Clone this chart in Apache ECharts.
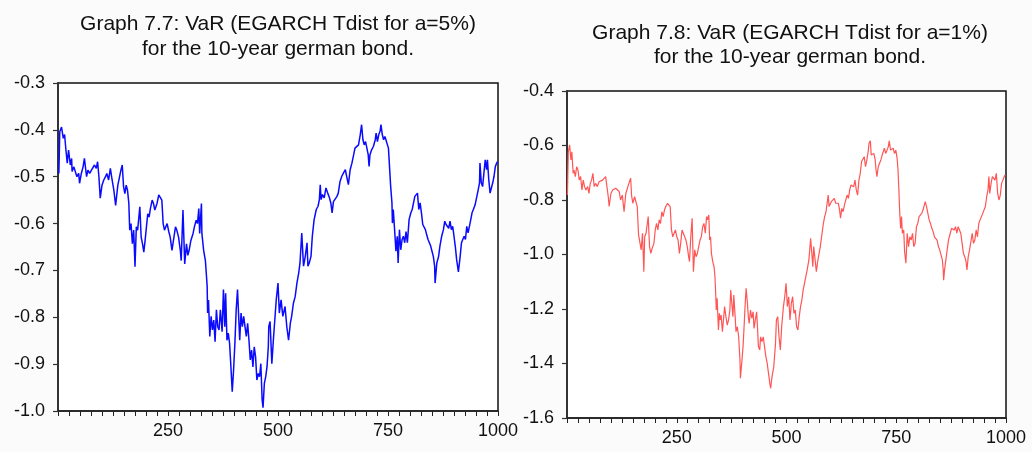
<!DOCTYPE html>
<html>
<head>
<meta charset="utf-8">
<script src="https://cdn.jsdelivr.net/npm/echarts@6/dist/echarts.min.js"></script>
<style>
  html, body { margin: 0; padding: 0; background: #fbfbfb; }
  #chart { width: 1032px; height: 452px; }
</style>
</head>
<body>
<div id="chart"></div>
<script>
// Titles of the two panels
const titleLeft = 'Graph 7.7: VaR (EGARCH Tdist for a=5%)\nfor the 10-year german bond.';
const titleRight = 'Graph 7.8: VaR (EGARCH Tdist for a=1%)\nfor the 10-year german bond.';

// x tick labels (observation number)
const xLabels = [250, 500, 750, 1000];

// VaR at a=5%: observation index and value
const obs5 = [2,4,8,12,15,18,21,24,28,31,32,36,40,43,47,49,53,57,60,65,68,72,76,80,83,87,90,93,96,100,104,108,111,115,119,123,127,131,136,140,143,146,149,152,155,158,161,163,166,169,172,175,178,181,186,189,192,195,198,201,204,207,210,214,217,220,225,229,233,236,239,242,245,248,252,255,259,263,267,270,274,278,280,284,288,292,295,298,302,307,310,314,317,320,322,326,327,331,335,337,339,340,342,345,348,351,354,357,360,363,366,369,373,376,379,381,384,387,390,393,396,399,402,405,408,411,413,416,419,422,425,428,431,434,437,440,443,446,449,452,455,458,461,464,466,469,472,475,478,479,482,486,490,496,500,503,507,511,516,520,524,528,531,535,539,543,547,550,554,558,562,566,568,571,575,578,582,587,591,594,596,598,601,605,609,613,617,620,623,626,630,634,637,641,645,649,653,656,660,664,668,672,675,679,683,687,690,693,696,699,702,705,707,709,713,717,721,723,726,729,732,734,737,740,743,747,751,753,756,759,760,762,765,768,771,773,776,779,782,785,788,791,794,798,802,805,808,811,814,817,820,823,826,829,832,835,838,841,844,847,850,853,856,857,861,865,868,872,876,879,882,885,888,891,894,897,900,903,906,910,914,917,920,923,926,929,932,935,938,941,944,948,952,955,958,959,962,965,968,971,974,976,979,982,985,988,991,994,997,999];
const var5 = [-0.493,-0.404,-0.394,-0.418,-0.41,-0.443,-0.471,-0.443,-0.475,-0.461,-0.489,-0.479,-0.475,-0.5,-0.493,-0.514,-0.493,-0.479,-0.461,-0.5,-0.486,-0.493,-0.486,-0.482,-0.475,-0.482,-0.468,-0.5,-0.546,-0.518,-0.507,-0.5,-0.493,-0.507,-0.482,-0.507,-0.529,-0.561,-0.518,-0.5,-0.486,-0.475,-0.521,-0.536,-0.518,-0.529,-0.557,-0.614,-0.6,-0.643,-0.614,-0.692,-0.607,-0.614,-0.564,-0.629,-0.643,-0.661,-0.636,-0.607,-0.579,-0.586,-0.568,-0.55,-0.557,-0.571,-0.557,-0.539,-0.536,-0.55,-0.6,-0.614,-0.611,-0.6,-0.618,-0.629,-0.657,-0.632,-0.607,-0.614,-0.629,-0.657,-0.679,-0.571,-0.686,-0.643,-0.668,-0.657,-0.636,-0.621,-0.607,-0.593,-0.6,-0.568,-0.621,-0.557,-0.621,-0.657,-0.679,-0.706,-0.734,-0.791,-0.763,-0.841,-0.798,-0.827,-0.806,-0.852,-0.784,-0.82,-0.827,-0.784,-0.831,-0.741,-0.82,-0.749,-0.849,-0.834,-0.856,-0.906,-0.959,-0.913,-0.856,-0.784,-0.741,-0.806,-0.849,-0.791,-0.82,-0.798,-0.82,-0.841,-0.813,-0.849,-0.891,-0.87,-0.906,-0.863,-0.884,-0.934,-0.92,-0.927,-0.899,-0.977,-0.993,-0.941,-0.927,-0.906,-0.863,-0.82,-0.809,-0.899,-0.841,-0.763,-0.727,-0.791,-0.763,-0.798,-0.777,-0.82,-0.849,-0.813,-0.798,-0.77,-0.756,-0.727,-0.706,-0.684,-0.62,-0.691,-0.67,-0.641,-0.691,-0.684,-0.67,-0.627,-0.592,-0.57,-0.563,-0.549,-0.517,-0.549,-0.538,-0.545,-0.524,-0.535,-0.545,-0.556,-0.577,-0.553,-0.556,-0.542,-0.535,-0.51,-0.499,-0.492,-0.485,-0.499,-0.517,-0.485,-0.471,-0.453,-0.439,-0.442,-0.432,-0.41,-0.389,-0.421,-0.432,-0.425,-0.439,-0.453,-0.478,-0.453,-0.442,-0.435,-0.421,-0.407,-0.425,-0.41,-0.403,-0.389,-0.41,-0.421,-0.414,-0.41,-0.439,-0.471,-0.52,-0.556,-0.599,-0.57,-0.613,-0.659,-0.627,-0.684,-0.613,-0.656,-0.634,-0.627,-0.641,-0.617,-0.641,-0.591,-0.577,-0.57,-0.556,-0.542,-0.538,-0.535,-0.57,-0.556,-0.577,-0.602,-0.599,-0.613,-0.624,-0.634,-0.634,-0.648,-0.659,-0.67,-0.691,-0.727,-0.684,-0.67,-0.648,-0.627,-0.613,-0.595,-0.602,-0.599,-0.61,-0.595,-0.613,-0.606,-0.627,-0.649,-0.677,-0.703,-0.67,-0.641,-0.641,-0.627,-0.634,-0.606,-0.62,-0.606,-0.592,-0.577,-0.57,-0.56,-0.556,-0.528,-0.513,-0.471,-0.513,-0.521,-0.492,-0.464,-0.485,-0.464,-0.506,-0.535,-0.531,-0.513,-0.499,-0.478,-0.471,-0.468];

// VaR at a=1%: observation index and value
const obs1 = [1,3,6,9,11,14,16,19,22,25,28,31,34,37,40,43,47,50,53,56,59,62,65,69,73,77,81,84,88,91,94,96,100,104,107,111,115,119,122,126,130,134,138,141,145,147,150,154,158,160,163,166,169,172,175,177,180,183,185,188,191,194,198,201,204,207,210,213,216,219,222,225,229,232,235,238,241,244,247,250,253,256,259,262,265,268,271,274,277,279,282,285,288,291,294,297,300,303,306,309,312,315,318,320,323,325,327,329,332,335,337,339,340,342,345,347,349,351,354,356,359,362,365,368,371,373,376,378,380,383,385,388,391,394,395,398,401,403,406,408,411,413,415,418,421,424,426,429,432,434,436,439,441,444,447,450,453,456,460,462,464,467,471,475,477,480,483,486,489,493,496,499,502,505,508,511,514,517,520,523,526,529,532,535,538,541,544,547,551,555,557,560,562,565,568,571,574,577,581,584,587,590,593,595,597,599,602,606,609,612,615,618,621,623,626,629,632,635,638,641,644,647,650,653,656,659,662,665,668,671,674,677,680,683,686,688,691,693,696,699,702,704,706,709,712,715,718,721,723,726,729,732,734,737,740,743,746,749,752,754,756,758,760,762,764,767,769,772,775,778,781,784,787,790,793,796,799,802,805,808,811,814,816,819,822,825,828,831,834,837,840,843,846,849,852,855,857,858,860,863,866,869,873,876,879,882,885,888,891,894,897,900,903,906,909,911,914,917,920,923,926,929,932,935,938,941,944,947,950,953,956,959,961,963,966,969,972,975,978,981,984,987,990,993,996,998];
const var1 = [-0.782,-0.623,-0.598,-0.653,-0.623,-0.702,-0.69,-0.714,-0.678,-0.69,-0.727,-0.714,-0.763,-0.727,-0.751,-0.763,-0.751,-0.776,-0.739,-0.727,-0.702,-0.751,-0.739,-0.751,-0.733,-0.739,-0.727,-0.733,-0.714,-0.708,-0.788,-0.824,-0.776,-0.763,-0.769,-0.757,-0.751,-0.769,-0.8,-0.782,-0.843,-0.776,-0.769,-0.739,-0.72,-0.782,-0.812,-0.788,-0.794,-0.824,-0.928,-0.922,-0.983,-0.922,-1.063,-0.935,-0.922,-0.886,-0.861,-0.971,-0.996,-0.977,-0.959,-0.91,-0.886,-0.91,-0.873,-0.886,-0.843,-0.861,-0.837,-0.824,-0.812,-0.818,-0.824,-0.91,-0.935,-0.922,-0.91,-0.935,-0.947,-0.996,-0.959,-0.91,-0.922,-0.935,-0.947,-0.971,-1.008,-1.026,-0.935,-0.867,-1.063,-0.983,-1.008,-0.996,-0.971,-0.947,-0.935,-0.898,-0.886,-0.922,-0.861,-0.873,-0.855,-0.947,-0.935,-0.996,-1.026,-1.045,-1.081,-1.155,-1.204,-1.161,-1.277,-1.216,-1.24,-1.222,-1.283,-1.289,-1.191,-1.228,-1.259,-1.24,-1.204,-1.13,-1.191,-1.228,-1.149,-1.228,-1.283,-1.265,-1.302,-1.387,-1.454,-1.399,-1.338,-1.277,-1.179,-1.124,-1.179,-1.228,-1.253,-1.204,-1.234,-1.21,-1.271,-1.24,-1.21,-1.271,-1.338,-1.35,-1.302,-1.32,-1.302,-1.338,-1.375,-1.399,-1.448,-1.473,-1.491,-1.448,-1.412,-1.326,-1.24,-1.228,-1.302,-1.35,-1.265,-1.191,-1.155,-1.106,-1.191,-1.155,-1.24,-1.179,-1.155,-1.216,-1.204,-1.265,-1.277,-1.228,-1.191,-1.167,-1.13,-1.106,-1.081,-1.057,-1.02,-0.941,-0.983,-1.045,-0.971,-0.965,-1.063,-1.026,-1.026,-0.971,-0.922,-0.886,-0.861,-0.843,-0.843,-0.782,-0.824,-0.831,-0.806,-0.812,-0.794,-0.812,-0.818,-0.812,-0.837,-0.867,-0.831,-0.843,-0.818,-0.812,-0.782,-0.794,-0.763,-0.745,-0.739,-0.751,-0.727,-0.763,-0.782,-0.727,-0.702,-0.659,-0.653,-0.641,-0.678,-0.653,-0.623,-0.592,-0.583,-0.635,-0.641,-0.629,-0.653,-0.69,-0.714,-0.678,-0.665,-0.653,-0.635,-0.629,-0.61,-0.629,-0.617,-0.604,-0.583,-0.617,-0.623,-0.61,-0.629,-0.617,-0.647,-0.69,-0.763,-0.849,-0.904,-0.861,-0.922,-0.91,-0.99,-1.032,-0.922,-0.971,-0.935,-0.947,-0.922,-0.971,-0.959,-0.898,-0.886,-0.861,-0.867,-0.849,-0.837,-0.818,-0.806,-0.824,-0.849,-0.873,-0.886,-0.904,-0.916,-0.935,-0.935,-0.947,-0.971,-0.983,-0.99,-1.02,-1.057,-1.094,-1.057,-1.02,-0.983,-0.947,-0.922,-0.904,-0.898,-0.91,-0.898,-0.922,-0.898,-0.91,-0.922,-0.959,-0.996,-1.008,-1.026,-1.057,-1.008,-0.983,-0.977,-0.922,-0.959,-0.947,-0.91,-0.935,-0.886,-0.873,-0.861,-0.849,-0.843,-0.824,-0.788,-0.763,-0.714,-0.776,-0.739,-0.714,-0.708,-0.727,-0.702,-0.776,-0.8,-0.782,-0.739,-0.727,-0.714,-0.708];

const zip = (xs, ys) => xs.map((x, i) => [x, ys[i]]);

const FONT = '"Liberation Sans", Arial, sans-serif';
const INK = '#111';

function xAxisFor(gridIndex) {
  return {
    type: 'value', gridIndex, min: 0, max: 1000, interval: 25,
    axisLine: { show: true, onZero: false, lineStyle: { color: '#222', width: 1.6 } },
    axisTick: { show: true, inside: false, length: 5, lineStyle: { color: '#222', width: 1 } },
    axisLabel: {
      margin: 11, fontSize: 18, fontFamily: FONT, color: INK,
      showMinLabel: true, showMaxLabel: true,
      formatter: v => (xLabels.indexOf(Math.round(v)) >= 0 ? String(Math.round(v)) : '')
    },
    splitLine: { show: false }
  };
}

function yAxisFor(gridIndex, min, max, interval) {
  return {
    type: 'value', gridIndex, min, max, interval,
    axisLine: { show: true, onZero: false, lineStyle: { color: '#333', width: 2 } },
    axisTick: { show: true, inside: false, length: 5, lineStyle: { color: '#333', width: 1.2 } },
    axisLabel: {
      margin: 13, fontSize: 18, fontFamily: FONT, color: INK,
      formatter: v => v.toFixed(1)
    },
    splitLine: { show: false }
  };
}

const chart = echarts.init(document.getElementById('chart'), null, { renderer: 'canvas' });
chart.setOption({
  backgroundColor: '#fbfbfb',
  animation: false,
  title: [
    {
      text: titleLeft, left: 273, top: 7, textAlign: 'center',
      textStyle: { fontFamily: FONT, fontSize: 21, fontWeight: 'normal', color: INK, lineHeight: 25, align: 'center' }
    },
    {
      text: titleRight, left: 785, top: 16, textAlign: 'center',
      textStyle: { fontFamily: FONT, fontSize: 21, fontWeight: 'normal', color: INK, lineHeight: 24, align: 'center' }
    }
  ],
  grid: [
    { left: 58, top: 83, width: 440, height: 328, show: true, backgroundColor: '#fff', borderColor: '#111', borderWidth: 1.5, containLabel: false },
    { left: 567, top: 91, width: 439, height: 327, show: true, backgroundColor: '#fff', borderColor: '#111', borderWidth: 1.5, containLabel: false }
  ],
  xAxis: [xAxisFor(0), xAxisFor(1)],
  yAxis: [yAxisFor(0, -1.0, -0.3, 0.1), yAxisFor(1, -1.6, -0.4, 0.2)],
  series: [
    {
      type: 'line', xAxisIndex: 0, yAxisIndex: 0, data: zip(obs5, var5),
      showSymbol: false, symbol: 'none', smooth: false,
      lineStyle: { color: '#0a0aff', width: 1.5 }
    },
    {
      type: 'line', xAxisIndex: 1, yAxisIndex: 1, data: zip(obs1, var1),
      showSymbol: false, symbol: 'none', smooth: false,
      lineStyle: { color: '#ff5555', width: 1.2 }
    }
  ]
});
</script>
</body>
</html>
